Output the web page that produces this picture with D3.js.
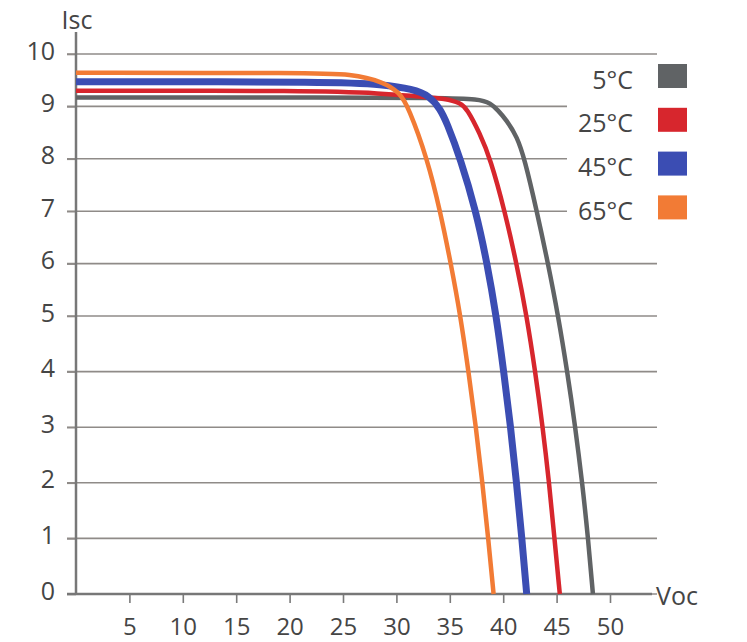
<!DOCTYPE html>
<html>
<head>
<meta charset="utf-8">
<script src="https://cdn.jsdelivr.net/npm/d3@7"></script>
<style>
  body { margin: 0; background: #fff; }
  text { font-family: "Open Sans", sans-serif; fill: #454545; }
</style>
</head>
<body>
<script>
// I-V curves of a module at four cell temperatures
const legendLabels = ["5°C", "25°C", "45°C", "65°C"];
const colors = ["#606365", "#d7262d", "#3b4db3", "#f27b35"];

// 5°C
const v5 = [0, 25, 34, 37.8, 38.8, 39.5, 40.3, 41.3, 42.0, 43.15, 44.2, 45.15, 46.0, 46.75, 47.4, 47.95, 48.4];
const i5 = [9.17, 9.17, 9.16, 9.14, 9.06, 8.93, 8.74, 8.42, 8.0, 7.0, 6.0, 5.0, 4.0, 3.0, 2.0, 1.0, 0];
// 25°C
const v25 = [0, 22, 28.8, 31.9, 34.7, 36.0, 36.6, 37.8, 38.8, 40.15, 41.25, 42.2, 43.0, 43.7, 44.3, 44.8, 45.3];
const i25 = [9.3, 9.3, 9.25, 9.19, 9.15, 9.06, 8.96, 8.49, 8.0, 7.0, 6.0, 5.0, 4.0, 3.0, 2.0, 1.0, 0];
// 45°C
const v45 = [0, 25, 28.5, 31.6, 33.1, 34.1, 34.7, 36.0, 37.45, 38.5, 39.35, 40.05, 40.7, 41.25, 41.75, 42.2];
const i45 = [9.47, 9.47, 9.42, 9.33, 9.2, 8.95, 8.7, 8.0, 7.0, 6.0, 5.0, 4.0, 3.0, 2.0, 1.0, 0];
// 65°C
const v65 = [0, 22, 25.7, 28.8, 30.3, 31.1, 32.9, 34.1, 35.1, 36.0, 36.75, 37.45, 38.05, 38.6, 39.1];
const i65 = [9.64, 9.64, 9.62, 9.47, 9.26, 9.0, 8.0, 7.0, 6.0, 5.0, 4.0, 3.0, 2.0, 1.0, 0];

const yTicks = [0, 1, 2, 3, 4, 5, 6, 7, 8, 9, 10];
const xTicks = [5, 10, 15, 20, 25, 30, 35, 40, 45, 50];

const w = 747;
const h = 642;

const xScale = d3.scaleLinear()
  .domain([0, 50])
  .range([76, 610]);

// the printed grid is a little tighter at the top
const yScale = d3.scaleLinear()
  .domain([0, 5, 10])
  .range([594, 316, 54]);

const svg = d3.select("body")
  .append("svg")
  .attr("width", w)
  .attr("height", h);

// gridlines (the ones beside the legend stop short)
svg.append("g")
  .selectAll("line")
  .data(yTicks)
  .enter()
  .append("line")
  .attr("x1", 67)
  .attr("x2", (d) => (d >= 7 && d <= 9) ? 567 : 657)
  .attr("y1", (d) => yScale(d))
  .attr("y2", (d) => yScale(d))
  .attr("stroke", "#8f8b88")
  .attr("stroke-width", 1.6);

// y axis
const yAxis = d3.axisLeft(yScale)
  .tickValues(yTicks)
  .tickSize(9)
  .tickPadding(12)
  .tickFormat(d3.format("d"));

const gy = svg.append("g")
  .attr("transform", "translate(76,0)")
  .call(yAxis);
gy.select(".domain").remove();
gy.selectAll(".tick line").attr("stroke", "#8f8b88").attr("stroke-width", 1.6);
gy.selectAll(".tick text")
  .attr("dy", "0.2em")
  .style("font-size", "25px")
  .attr("fill", "#454545");

// x axis
const xAxis = d3.axisBottom(xScale)
  .tickValues(xTicks)
  .tickSize(9)
  .tickPadding(15)
  .tickSizeOuter(0);

const gx = svg.append("g")
  .attr("transform", "translate(0,594)")
  .call(xAxis);
gx.select(".domain").remove();
gx.selectAll(".tick line").attr("stroke", "#7a7a7a").attr("stroke-width", 1.6);
gx.selectAll(".tick text")
  .style("font-size", "24px")
  .attr("fill", "#454545");

// axis lines
svg.append("line")
  .attr("x1", 67).attr("x2", 652)
  .attr("y1", 594).attr("y2", 594)
  .attr("stroke", "#777")
  .attr("stroke-width", 2.5);

svg.append("line")
  .attr("x1", 76).attr("x2", 76)
  .attr("y1", 32).attr("y2", 594)
  .attr("stroke", "#777")
  .attr("stroke-width", 2.5);

svg.append("text")
  .attr("x", 77)
  .attr("y", 29)
  .attr("text-anchor", "middle")
  .style("font-size", "25px")
  .text("Isc");

svg.append("text")
  .attr("x", 656)
  .attr("y", 605)
  .style("font-size", "25px")
  .text("Voc");

// curves
const curves = [
  { v: v5, i: i5, width: 4.5 },
  { v: v25, i: i25, width: 4.5 },
  { v: v45, i: i45, width: 7 },
  { v: v65, i: i65, width: 4.5 }
];

const line = d3.line()
  .x((d) => xScale(d[0]))
  .y((d) => yScale(d[1]))
  .curve(d3.curveBasis);

svg.append("g")
  .selectAll("path")
  .data(curves)
  .enter()
  .append("path")
  .attr("d", (d) => line(d.v.map((v, k) => [v, d.i[k]])))
  .attr("fill", "none")
  .attr("stroke", (d, k) => colors[k])
  .attr("stroke-width", (d) => d.width)
  .attr("stroke-linejoin", "round");

// legend
const legend = svg.append("g")
  .selectAll("g")
  .data(legendLabels)
  .enter()
  .append("g")
  .attr("transform", (d, k) => "translate(0," + (79.5 + k * 43.8) + ")");

legend.append("text")
  .attr("x", 633)
  .attr("y", 0)
  .attr("dy", "0.36em")
  .attr("text-anchor", "end")
  .style("font-size", "25px")
  .text((d) => d);

legend.append("rect")
  .attr("x", 658)
  .attr("y", -15.5)
  .attr("width", 29)
  .attr("height", 24)
  .attr("fill", (d, k) => colors[k]);
</script>
</body>
</html>
